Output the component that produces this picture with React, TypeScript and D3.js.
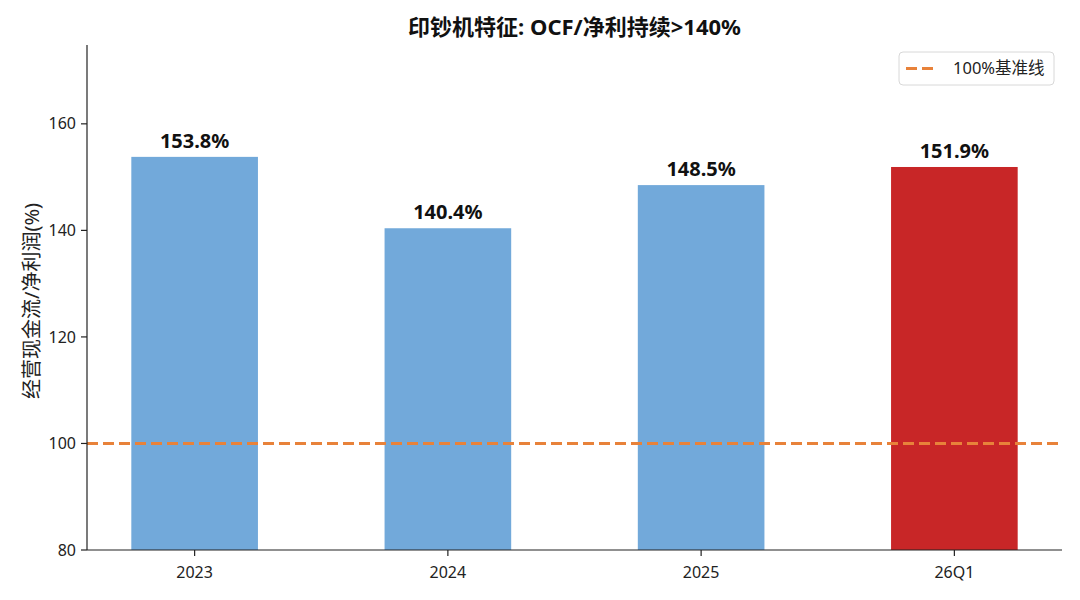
import React from "react";
import * as d3 from "d3";

const categories = ["2023", "2024", "2025", "26Q1"];
const values = [153.8, 140.4, 148.5, 151.9];
const barColors = ["#72a9da", "#72a9da", "#72a9da", "#c82627"];
const yTicks = [80, 100, 120, 140, 160];
const baseline = 100;

const W = 1080, H = 600;
const L = 87, R = 1062, T = 45, B = 550;
const FONT = "'Noto Sans', 'Noto Sans CJK SC', sans-serif";

export default function App() {
  const x = d3.scaleLinear().domain([-0.425, 3.425]).range([L, R]);
  const y = d3.scaleLinear().domain([80, 174.8]).range([B, T]);
  const bw = x(0.5) - x(0);
  return (
    <svg width={W} height={H} style={{ position: "absolute", left: 0, top: 0, background: "#fff" }} fontFamily={FONT}>
      <rect width={W} height={H} fill="#fff" />
      <text x={(L + R) / 2} y={35} textAnchor="middle" fontSize={22} fontWeight="bold" fill="#111">
        印钞机特征: OCF/净利持续&gt;140%
      </text>
      {values.map((v, i) => (
        <g key={i}>
          <rect x={x(i) - bw / 2} y={y(v)} width={bw} height={B - y(v)} fill={barColors[i]} />
          <text x={x(i)} y={y(v) - 9} textAnchor="middle" fontSize={20} fontWeight="bold" fill="#111">
            {v.toFixed(1)}%
          </text>
        </g>
      ))}
      <line x1={L} x2={R} y1={y(baseline)} y2={y(baseline)} stroke="#e8823a" strokeWidth={3} strokeDasharray="11,5" />
      <line x1={L} x2={L} y1={T} y2={B} stroke="#222" strokeWidth={1.2} />
      <line x1={L} x2={R} y1={B} y2={B} stroke="#222" strokeWidth={1.2} />
      {yTicks.map((t) => (
        <g key={t}>
          <line x1={L - 6} x2={L} y1={y(t)} y2={y(t)} stroke="#222" strokeWidth={1.2} />
          <text x={L - 11} y={y(t)} dy="0.35em" textAnchor="end" fontSize={16} fill="#222">{t}</text>
        </g>
      ))}
      {categories.map((c, i) => (
        <g key={c}>
          <line x1={x(i)} x2={x(i)} y1={B} y2={B + 6} stroke="#222" strokeWidth={1.2} />
          <text x={x(i)} y={B + 28} textAnchor="middle" fontSize={16} fill="#222">{c}</text>
        </g>
      ))}
      <text transform={`translate(39, 301) rotate(-90)`} textAnchor="middle" fontSize={20} fill="#222">
        经营现金流/净利润(%)
      </text>
      <g>
        <rect x={899} y={52} width={155} height={33} rx={4} fill="#fff" stroke="#d8d8d8" />
        <line x1={906} x2={938} y1={68.5} y2={68.5} stroke="#e8823a" strokeWidth={3} strokeDasharray="11,5" />
        <text x={953} y={68.5} dy="0.35em" fontSize={16.5} fill="#222">100%基准线</text>
      </g>
    </svg>
  );
}
